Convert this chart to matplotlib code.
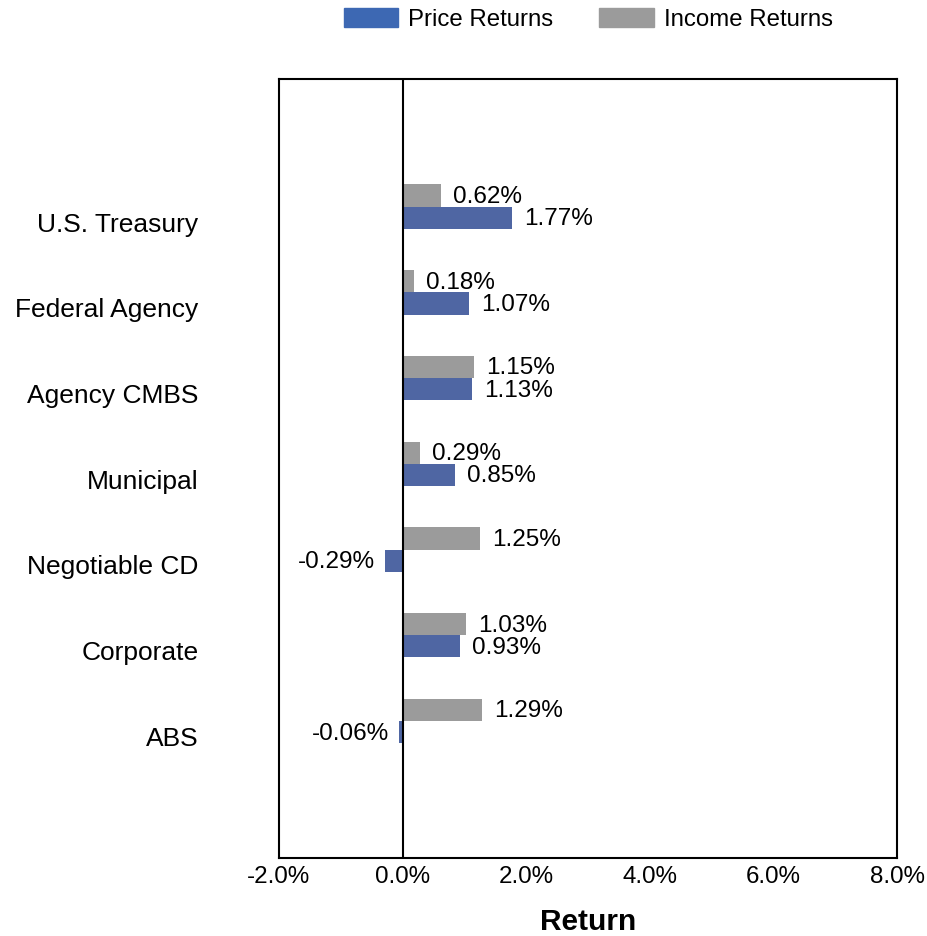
import matplotlib
matplotlib.use("Agg")
import matplotlib.pyplot as plt
from matplotlib.patches import Patch
import numpy as np

plt.rcParams['font.family'] = ['Liberation Sans', 'DejaVu Sans']

categories = ["U.S. Treasury", "Federal Agency", "Agency CMBS", "Municipal",
              "Negotiable CD", "Corporate", "ABS"]
price_returns = [1.77, 1.07, 1.13, 0.85, -0.29, 0.93, -0.06]
income_returns = [0.62, 0.18, 1.15, 0.29, 1.25, 1.03, 1.29]
xticks = [-2, 0, 2, 4, 6, 8]
xtick_labels = ["-2.0%", "0.0%", "2.0%", "4.0%", "6.0%", "8.0%"]

price_color = "#4F66A3"
price_legend_color = "#3D68B3"
income_color = "#9B9B9B"

fig = plt.figure(figsize=(9.28, 9.36), dpi=100)
ax = fig.add_axes([0.3006, 0.0833, 0.666, 0.8323])

n = len(categories)
ypos = np.arange(n)[::-1]  # top category highest
h = 0.26
shift = 0.18
y_inc = ypos + shift + h / 2
y_pr = ypos + shift - h / 2

ax.barh(y_inc, income_returns, height=h, color=income_color)
ax.barh(y_pr, price_returns, height=h, color=price_color)

vfs = 17.5
for y, v in zip(y_inc, income_returns):
    ax.annotate(f"{v:.2f}%", (v, y), xytext=(12, 1), textcoords="offset pixels",
                ha="left", va="center_baseline", fontsize=vfs)
for y, v in zip(y_pr, price_returns):
    if v >= 0:
        ax.annotate(f"{v:.2f}%", (v, y), xytext=(12, 1), textcoords="offset pixels",
                    ha="left", va="center_baseline", fontsize=vfs)
    else:
        ax.annotate(f"{v:.2f}%", (v, y), xytext=(-10, 1), textcoords="offset pixels",
                    ha="right", va="center_baseline", fontsize=vfs)

ax.axvline(0, color="black", lw=1.5)
ax.set_xlim(-2, 8)
ax.set_ylim(-1.42, n - 1 + 1.67)
ax.set_xticks(xticks)
ax.set_xticklabels(xtick_labels, fontsize=17.4)
ax.set_yticks(ypos)
ax.set_yticklabels(categories, fontsize=19)
ax.tick_params(axis="y", length=0, pad=58)
ax.tick_params(axis="x", length=0, pad=6)
for s in ax.spines.values():
    s.set_linewidth(1.5)
ax.set_xlabel("Return", fontsize=21.5, fontweight="bold", labelpad=14)

handles = [Patch(color=price_legend_color, label="Price Returns"),
           Patch(color=income_color, label="Income Returns")]
fig.legend(handles=handles, loc="center", bbox_to_anchor=(0.634, 0.979), ncol=2,
           frameon=False, fontsize=17.3, handlelength=2.28, handleheight=0.86,
           handletextpad=0.42, columnspacing=1.9)

fig.savefig("out.png", dpi=100)
